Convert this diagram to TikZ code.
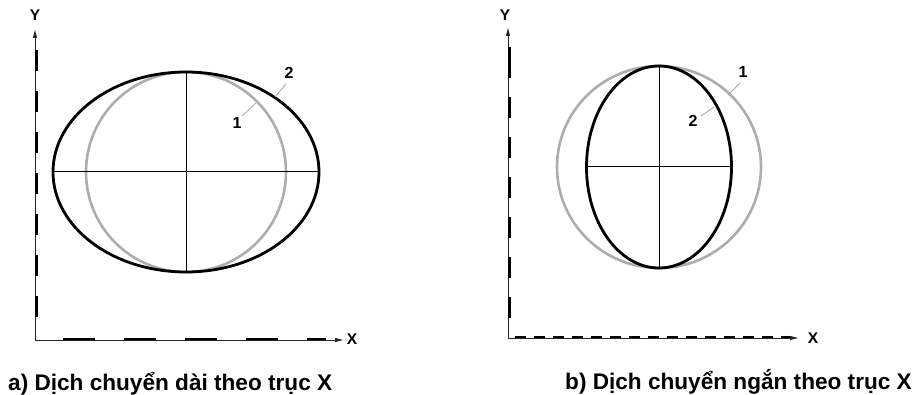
\documentclass[tikz,border=0pt]{standalone}
\usepackage{fontspec}
\setmainfont{Liberation Sans}
\usetikzlibrary{arrows.meta}
\begin{document}
\begin{tikzpicture}[x=1pt,y=-1pt,
  axisline/.style={draw=black!85, line width=0.9pt, -{Latex[length=9pt,width=4.5pt]}},
  dashbar/.style={draw=black, line width=2.4pt},
  thickcurve/.style={draw=black, line width=2.8pt},
  graycurve/.style={draw=black!32, line width=2.6pt},
  crossline/.style={draw=black, line width=1pt},
  leader/.style={draw=black!35, line width=0.8pt},
  axlabel/.style={font=\fontsize{15.5}{15.5}\selectfont\bfseries, inner sep=0pt},
  numlabel/.style={font=\fontsize{16}{16}\selectfont\bfseries, inner sep=0pt},
  caption/.style={font=\fontsize{22.6}{22.6}\selectfont\bfseries, inner sep=0pt, anchor=base west}]
\useasboundingbox (0,0) rectangle (923,395);
% ---------- panel a ----------
\coordinate (Oa) at (35,340);
\coordinate (Ya) at (35,29);
\coordinate (Xa) at (344,340);
\draw[axisline] (Oa) -- (Ya);
\draw[axisline] (Oa) -- (Xa);
\draw[dashbar, dash pattern=on 21pt off 20pt] (36.6,50) -- (36.6,318);
\draw[dashbar, dash pattern=on 32pt off 29pt] (63,338.8) -- (326,338.8);
\node[axlabel] (Ylab-a) at (35,15) {Y};
\node[axlabel] (Xlab-a) at (352,339) {X};
\draw[graycurve] (186,172) ellipse [x radius=100pt, y radius=100pt];
\draw[thickcurve] (186,172) ellipse [x radius=133pt, y radius=100pt];
\coordinate (La) at (53,172); \coordinate (Ra) at (319,172);
\coordinate (Ta) at (186,72); \coordinate (Ba) at (186,272);
\draw[crossline] (La) -- (Ra);
\draw[crossline] (Ta) -- (Ba);
\node[numlabel] (two-a) at (289,73) {2};
\node[numlabel] (one-a) at (237,123) {1};
\coordinate (p2a) at (275,97);
\coordinate (p1a) at (256,103);
\draw[leader] (286,84) -- (p2a);
\draw[leader] (242,116) -- (p1a);
\node[caption] (cap-a) at (8,390) {a) Dịch chuyển dài theo trục X};
% ---------- panel b ----------
\coordinate (Ob) at (508,338);
\coordinate (Yb) at (508,27);
\coordinate (Xb) at (799,338);
\draw[axisline] (Ob) -- (Yb);
\draw[axisline] (Ob) -- (Xb);
\draw[dashbar] (509.6,47) -- (509.6,78);
\draw[dashbar, dash pattern=on 21pt off 19pt] (509.6,97) -- (509.6,318);
\draw[dashbar, dash pattern=on 11pt off 8pt] (515,336.8) -- (790,336.8);
\node[axlabel] (Ylab-b) at (505,15) {Y};
\node[axlabel] (Xlab-b) at (813,338) {X};
\draw[graycurve] (659,167) ellipse [x radius=102pt, y radius=101pt];
\draw[thickcurve] (659,167) ellipse [x radius=72.5pt, y radius=101pt];
\coordinate (Lb) at (587,167); \coordinate (Rb) at (731,167);
\coordinate (Tb) at (659,66); \coordinate (Bb) at (659,268);
\draw[crossline] (Lb) -- (Rb);
\draw[crossline] (Tb) -- (Bb);
\node[numlabel] (one-b) at (743,72) {1};
\node[numlabel] (two-b) at (693,121) {2};
\coordinate (p1b) at (728,95);
\coordinate (p2b) at (714,107);
\draw[leader] (740,83) -- (p1b);
\draw[leader] (701,116) -- (p2b);
\node[caption] (cap-b) at (565,389) {b) Dịch chuyển ngắn theo trục X};
\end{tikzpicture}
\end{document}
